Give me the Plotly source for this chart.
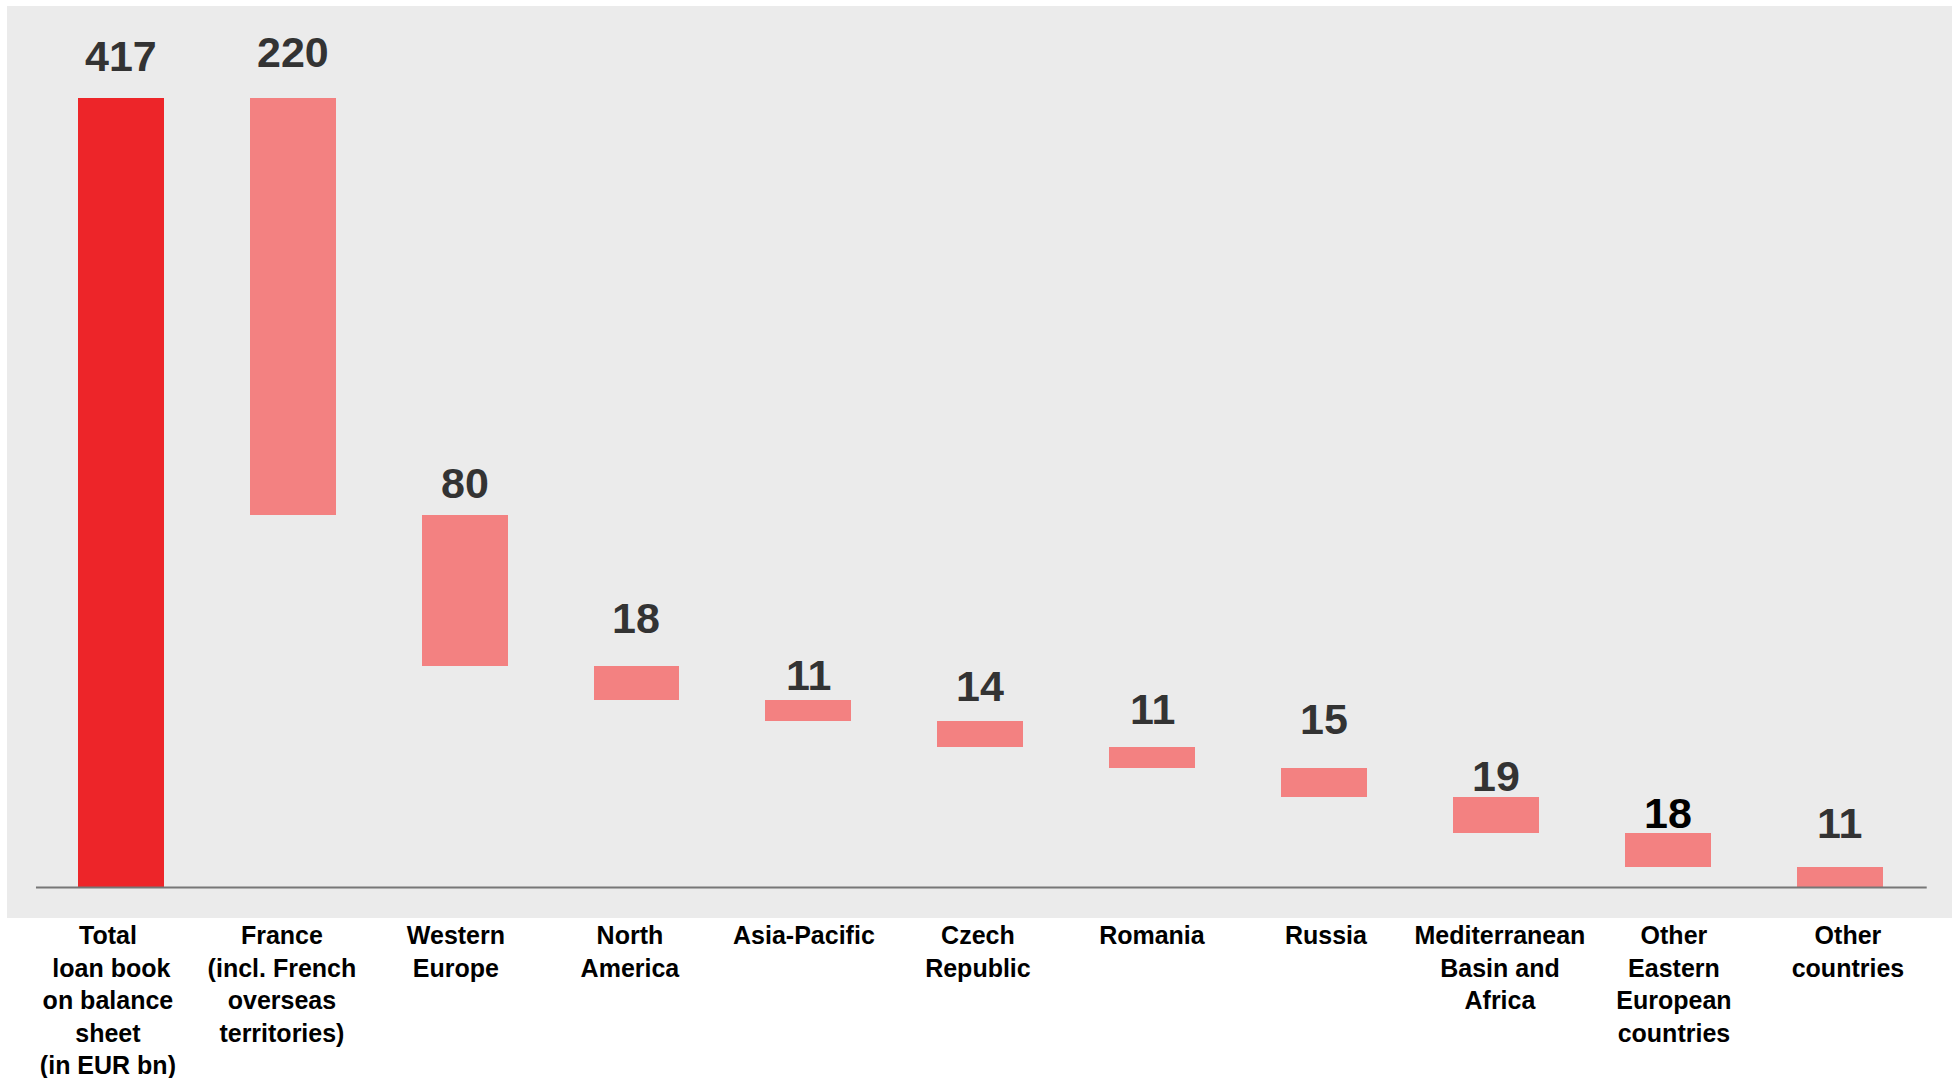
import plotly.graph_objects as go

# ---- data ----
categories = [
    "Total<br> loan book<br>on balance<br>sheet<br>(in EUR bn)",
    "France<br>(incl. French<br>overseas<br>territories)",
    "Western<br>Europe",
    "North<br>America",
    "Asia-Pacific",
    "Czech<br>Republic",
    "Romania",
    "Russia",
    "Mediterranean<br>Basin and<br>Africa",
    "Other<br>Eastern<br>European<br>countries",
    "Other<br>countries",
]
total_value = 417
breakdown_values = [220, 80, 18, 11, 14, 11, 15, 19, 18, 11]

# ---- styling (label offsets above bar tops in px) ----
label_gaps = [42, 46, 32, 48, 25, 35, 38, 49, 21, 20, 44]
label_colors = ["#333333"] * 9 + ["#000000", "#333333"]

values = [total_value] + breakdown_values
bases = [0]
running = total_value
for v in breakdown_values:
    running -= v
    bases.append(running)
tops = [b + v for b, v in zip(bases, values)]
idx = list(range(len(categories)))

colors = ["#ED2529"] + ["#F38181"] * len(breakdown_values)

fig = go.Figure()
fig.add_trace(go.Bar(
    x=idx, y=values, base=bases, width=0.5,
    marker=dict(color=colors, line=dict(width=0)),
    showlegend=False, hoverinfo="skip",
))
# invisible trace carrying the category label axis
fig.add_trace(go.Scatter(
    x=idx, y=[0] * len(idx), xaxis="x2", mode="markers",
    marker=dict(opacity=0), showlegend=False, hoverinfo="skip",
))

for i, (t, v) in enumerate(zip(tops, values)):
    fig.add_annotation(
        x=i, y=t, text=f"<b>{v}</b>", showarrow=False,
        yanchor="middle", xanchor="center", yshift=label_gaps[i],
        font=dict(family="Liberation Sans, Arial, sans-serif", size=43, color=label_colors[i]),
    )

# baseline
fig.add_shape(type="line", xref="paper", yref="y", x0=0.0149, x1=0.987, y0=0, y1=0,
              line=dict(color="#777777", width=2), layer="above")

fig.update_layout(
    width=1952, height=1078,
    margin=dict(l=7, r=0, t=6, b=160),
    paper_bgcolor="white", plot_bgcolor="#EBEBEB",
    bargap=0,
    xaxis=dict(range=[-0.662, 10.653], showticklabels=False, showgrid=False,
               zeroline=False, showline=False, ticks=""),
    xaxis2=dict(range=[-0.580, 10.598], overlaying="x", side="bottom", anchor="y",
                tickmode="array", tickvals=idx,
                ticktext=[f"<b>{c}</b>" for c in categories],
                tickfont=dict(family="Liberation Sans, Arial, sans-serif", size=25, color="#000000"),
                showgrid=False, zeroline=False, showline=False, ticks="", tickangle=0),
    yaxis=dict(range=[-16.1, 465.6], visible=False, showgrid=False, zeroline=False),
)

fig.write_html(
    "out.html",
    config={"displayModeBar": False},
    post_script="document.body.style.margin='0';document.body.style.overflow='hidden';",
)
